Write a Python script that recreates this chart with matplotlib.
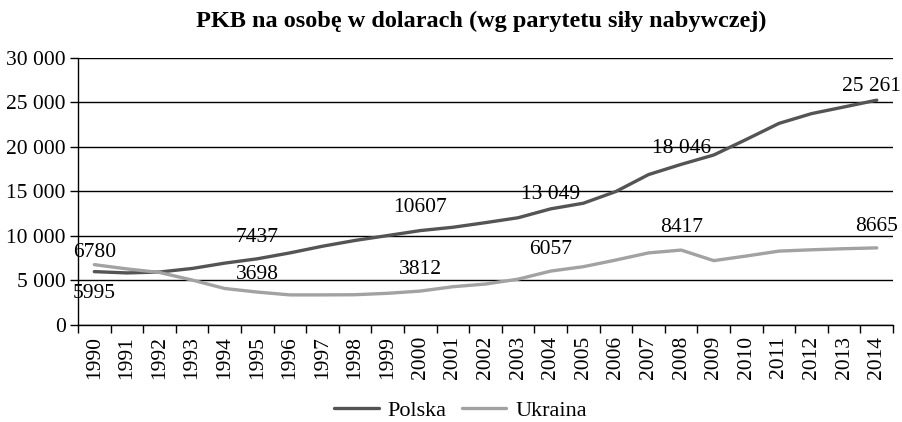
import matplotlib
matplotlib.use('Agg')
import matplotlib.pyplot as plt
import numpy as np

plt.rcParams['font.family'] = ['Liberation Serif', 'DejaVu Serif']

years = list(range(1990, 2015))
polska = [5995, 5850, 5950, 6350, 6950, 7437, 8100, 8850, 9500, 10050, 10607,
          10980, 11500, 12050, 13049, 13680, 15000, 16900, 18046, 19100, 20850,
          22650, 23750, 24500, 25261]
ukraina = [6780, 6300, 5900, 5050, 4100, 3698, 3380, 3380, 3400, 3560, 3812,
           4300, 4600, 5150, 6057, 6550, 7300, 8100, 8417, 7230, 7750,
           8300, 8450, 8570, 8665]

# labelled points
labels_pl = [(1990, '5995'), (1995, '7437'), (2000, '10607'), (2004, '13 049'),
             (2008, '18 046'), (2014, '25 261')]
labels_ua = [(1990, '6780'), (1995, '3698'), (2000, '3812'), (2004, '6057'),
             (2008, '8417'), (2014, '8665')]

c_pl = '#545454'
c_ua = '#a2a2a2'
fs = 15.5

fig = plt.figure(figsize=(9.03, 4.22), dpi=100)
ax = fig.add_axes([0.0864, 0.2299, 0.9026, 0.6327])

x = np.arange(len(years))
ax.plot(x, polska, color=c_pl, lw=2.4, label='Polska', solid_capstyle='round')
ax.plot(x, ukraina, color=c_ua, lw=2.4, label='Ukraina', solid_capstyle='round')

# data labels (offsets in points)
off_pl = {1990: (0, -15.5), 1995: (0, 15.5), 2000: (0, 16.5), 2004: (0, 10.5),
          2008: (0, 11.5), 2014: (-4, 9.5)}
off_ua = {1990: (0, 8.5), 1995: (0, 12.5), 2000: (0, 15.5), 2004: (0, 15.5),
          2008: (0, 16.5), 2014: (0, 15.5)}
for yr, txt in labels_pl:
    i = years.index(yr)
    ax.annotate(txt, (i, polska[i]), xytext=off_pl[yr], textcoords='offset points',
                ha='center', va='center', fontsize=fs, color='black',
                annotation_clip=False)
for yr, txt in labels_ua:
    i = years.index(yr)
    ax.annotate(txt, (i, ukraina[i]), xytext=off_ua[yr], textcoords='offset points',
                ha='center', va='center', fontsize=fs, color='black')

ax.set_xlim(-0.5, len(years) - 0.5)
ax.set_ylim(0, 30000)
yt = np.arange(0, 30001, 5000)
ax.set_yticks(yt)
ax.set_yticklabels([f'{v:,}'.replace(',', ' ') for v in yt], fontsize=fs)
ax.yaxis.grid(True, color='black', lw=1)
ax.set_axisbelow(True)

ax.set_xticks(x)
ax.set_xticklabels([str(y) for y in years], rotation=90, fontsize=fs)
ax.set_xticks(np.arange(-0.5, len(years)), minor=True)
ax.tick_params(axis='x', which='major', length=0, pad=8)
ax.tick_params(axis='x', which='minor', length=6, width=1, direction='out')
ax.tick_params(axis='y', length=6, width=1, direction='out', pad=3)

for s in ['top', 'right']:
    ax.spines[s].set_visible(False)
for s in ['left', 'bottom']:
    ax.spines[s].set_color('black')
    ax.spines[s].set_linewidth(1)

fig.suptitle('PKB na osobę w dolarach (wg parytetu siły nabywczej)',
             fontsize=17.5, fontweight='bold', x=0.533, y=0.975)

fig.legend(loc='center', bbox_to_anchor=(0.51, 0.027), ncol=2, frameon=False,
           fontsize=16, handlelength=2.0, columnspacing=0.7, handletextpad=0.4)

fig.savefig('out.png', dpi=100)
